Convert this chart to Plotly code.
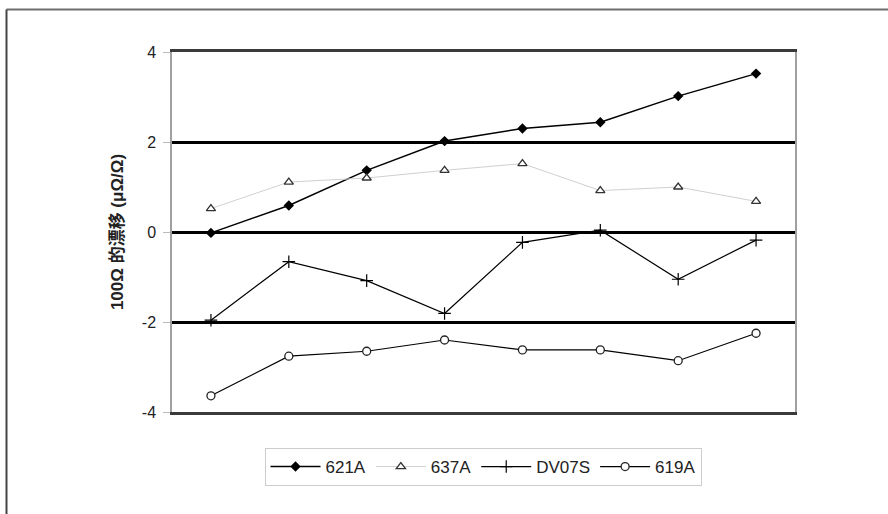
import plotly.graph_objects as go

categories = [1, 2, 3, 4, 5, 6, 7, 8]
s621A = [-0.02, 0.59, 1.37, 2.02, 2.30, 2.44, 3.02, 3.52]
s637A = [0.52, 1.11, 1.20, 1.37, 1.52, 0.92, 1.00, 0.68]
sDV07S = [-1.96, -0.66, -1.08, -1.81, -0.23, 0.04, -1.05, -0.18]
s619A = [-3.64, -2.76, -2.65, -2.40, -2.62, -2.62, -2.86, -2.25]
y_ticks = [-4, -2, 0, 2, 4]
y_ticktext = ["-4", "-2", "0", "2", "4"]
y_title = "100Ω 的漂移 (μΩ/Ω)"

fig = go.Figure()
fig.add_trace(go.Scatter(x=categories, y=s621A, name="621A", mode="lines+markers",
                         line=dict(color="black", width=1.5),
                         marker=dict(symbol="diamond", size=8, color="black")))
fig.add_trace(go.Scatter(x=categories, y=s637A, name="637A", mode="lines+markers",
                         line=dict(color="#d0d0d0", width=1),
                         marker=dict(symbol="triangle-up", size=8, color="white",
                                     line=dict(color="#333333", width=1.3))))
fig.add_trace(go.Scatter(x=categories, y=sDV07S, name="DV07S", mode="lines+markers",
                         line=dict(color="black", width=1.2),
                         marker=dict(symbol="cross-thin", size=9,
                                     line=dict(color="black", width=1.2))))
fig.add_trace(go.Scatter(x=categories, y=s619A, name="619A", mode="lines+markers",
                         line=dict(color="black", width=1.2),
                         marker=dict(symbol="circle", size=8, color="white",
                                     line=dict(color="#222222", width=1.3))))

L, R, T, B = 172, 93, 52, 102
W, H = 888, 514
pw, ph = W - L - R, H - T - B

def px(x):
    return (x - L) / pw

def py(y):
    return (H - B - y) / ph

fig.add_shape(type="line", xref="paper", yref="paper",
              x0=px(6.5), x1=px(890), y0=py(9.5), y1=py(9.5),
              line=dict(color="#6e6e6e", width=2))
fig.add_shape(type="line", xref="paper", yref="paper",
              x0=px(6.5), x1=px(6.5), y0=py(9.5), y1=py(516),
              line=dict(color="#444444", width=2))

fig.update_layout(
    width=W, height=H,
    margin=dict(l=L, r=R, t=T, b=B),
    paper_bgcolor="white", plot_bgcolor="white",
    font=dict(family="Liberation Sans, Arial, Noto Sans CJK SC", size=12, color="#222"),
    showlegend=True,
    legend=dict(orientation="h", x=px(483), xanchor="center", y=py(448), yanchor="top",
                bordercolor="#cccccc", borderwidth=1, font=dict(size=17),
                itemwidth=50, tracegroupgap=0),
    xaxis=dict(range=[0.5, 8.5], showticklabels=False, showgrid=False, zeroline=False,
               showline=True, linecolor="#3a3a3a", linewidth=3, mirror=True,
               ticks=""),
    yaxis=dict(range=[-4, 4], tickvals=y_ticks, ticktext=y_ticktext,
               showgrid=True, gridcolor="black",
               gridwidth=3, zeroline=True, zerolinecolor="black", zerolinewidth=3,
               showline=True, linecolor="#a0a0a0", linewidth=1.5, mirror=True,
               ticks="outside", ticklen=7, tickcolor="#bbbbbb",
               tickfont=dict(size=16), ticklabelstandoff=4,
               title=dict(text="<b>" + y_title + "</b>", font=dict(size=17), standoff=14)),
)

fig.write_html("out.html", post_script="document.body.style.margin='0';",
               config={"displayModeBar": False})
